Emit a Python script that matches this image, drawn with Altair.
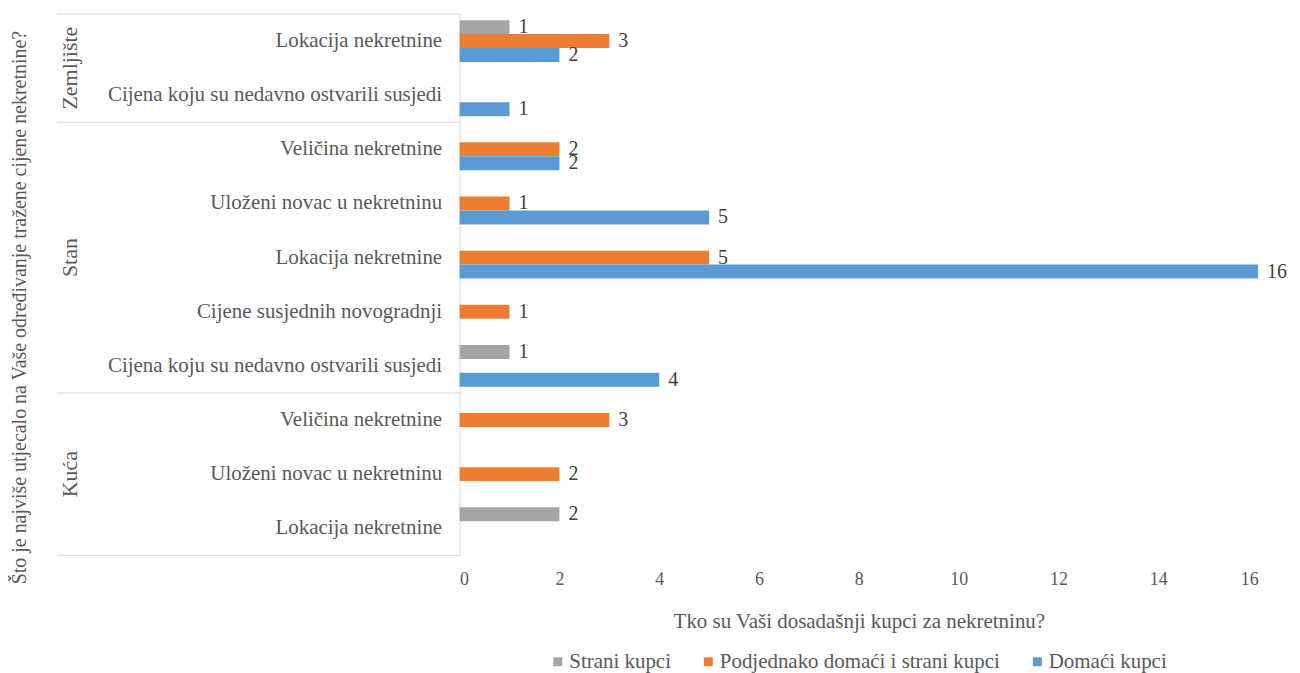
import altair as alt
import pandas as pd

# ---- data ----
groups = ["Zemljište", "Zemljište", "Stan", "Stan", "Stan", "Stan", "Stan", "Kuća", "Kuća", "Kuća"]
factors = [
    "Lokacija nekretnine",
    "Cijena koju su nedavno ostvarili susjedi",
    "Veličina nekretnine",
    "Uloženi novac u nekretninu",
    "Lokacija nekretnine",
    "Cijene susjednih novogradnji",
    "Cijena koju su nedavno ostvarili susjedi",
    "Veličina nekretnine",
    "Uloženi novac u nekretninu",
    "Lokacija nekretnine",
]
series = ["Strani kupci", "Podjednako domaći i strani kupci", "Domaći kupci"]
strani = [1, None, None, None, None, None, 1, None, None, 2]
podjednako = [3, None, 2, 1, 5, 1, None, 3, 2, None]
domaci = [2, 1, 2, 5, 16, None, 4, None, None, None]
colors = ["#A5A5A5", "#ED7D31", "#5B9BD5"]
group_order = ["Zemljište", "Stan", "Kuća"]
x_ticks = [0, 2, 4, 6, 8, 10, 12, 14, 16]

y_title = "Što je najviše utjecalo na Vaše određivanje tražene cijene nekretnine?"
x_title = "Tko su Vaši dosadašnji kupci za nekretninu?"

FONT = "Liberation Serif"
TXT = "#595959"
LINE = "#D9D9D9"

keys = [f"{g}|{f}" for g, f in zip(groups, factors)]
rows = []
for k, vals in zip(keys, [list(t) for t in zip(strani, podjednako, domaci)]):
    for s, v in zip(series, vals):
        if v is not None:
            rows.append({"key": k, "series": s, "value": v})
df = pd.DataFrame(rows)

gdf_rows = []
bounds = [0]
for g in group_order:
    idx = [i for i, gg in enumerate(groups) if gg == g]
    start, end = min(idx), max(idx) + 1
    gdf_rows.append({"group": g, "mid": (start + end) / 2})
    bounds.append(end)
gdf = pd.DataFrame(gdf_rows)
bdf = pd.DataFrame({"b": bounds})

W, H = 801, 543

y_enc = alt.Y(
    "key:N",
    sort=keys,
    scale=alt.Scale(paddingInner=0, paddingOuter=0),
    axis=alt.Axis(
        labelExpr="split(datum.label, '|')[1]",
        title=y_title,
        ticks=False,
        labelPadding=18,
        labelLimit=500,
        domainColor=LINE,
        labelFontSize=21,
        labelColor=TXT,
        titleFontSize=20,
        titleFontWeight="normal",
        titleColor=TXT,
        titleAngle=270,
        titleX=-441,
        titleY=294,
        titleAlign="center",
        titleBaseline="middle",
        titleLimit=900,
    ),
)
yoff = alt.YOffset(
    "series:N",
    sort=series,
    scale=alt.Scale(domain=series, paddingInner=0, paddingOuter=0.44),
)

x_enc = alt.X(
    "value:Q",
    scale=alt.Scale(domain=[0, 16], nice=False),
    axis=alt.Axis(
        values=x_ticks,
        grid=False,
        ticks=False,
        domain=False,
        labelPadding=15,
        labelFontSize=18,
        labelColor=TXT,
        title=x_title,
        titleFontSize=21,
        titleFontWeight="normal",
        titleColor=TXT,
        titlePadding=22,
    ),
)

bars = alt.Chart(df).mark_bar().encode(
    x=x_enc,
    y=y_enc,
    yOffset=yoff,
    color=alt.Color(
        "series:N",
        sort=series,
        scale=alt.Scale(domain=series, range=colors),
        legend=alt.Legend(
            title=None,
            orient="none",
            direction="horizontal",
            legendX=88,
            legendY=639,
            symbolType="square",
            symbolSize=81,
            symbolStrokeWidth=0,
            labelFontSize=21,
            labelColor=TXT,
            labelLimit=500,
            columnPadding=26,
            symbolOffset=0,
            labelOffset=1,
        ),
    ),
)

labels = alt.Chart(df).mark_text(
    align="left", baseline="middle", dx=9, fontSize=20, color="#404040"
).encode(
    x="value:Q",
    y=alt.Y("key:N", sort=keys),
    yOffset=alt.YOffset("series:N", sort=series),
    text="value:Q",
)

base = alt.layer(bars, labels)

qy = alt.Scale(domain=[0, 10], reverse=True, nice=False, zero=False)

rules = alt.Chart(bdf).mark_rule(color=LINE, strokeWidth=1).encode(
    y=alt.Y("b:Q", scale=qy, axis=None),
    x=alt.value(-404),
    x2=alt.value(0),
)
gtext = alt.Chart(gdf).mark_text(
    angle=270, align="center", baseline="middle", fontSize=22, color=TXT
).encode(
    y=alt.Y("mid:Q", scale=qy, axis=None),
    x=alt.value(-391),
    text="group:N",
)
annot = alt.layer(rules, gtext)

chart = (
    alt.layer(base, annot)
    .resolve_scale(y="independent")
    .properties(width=W, height=H, background="white",
                padding={"left": 2, "top": 4, "right": 5, "bottom": 0})
    .configure(font=FONT)
    .configure_view(stroke="transparent", strokeWidth=0)
)

chart.save("out.html", embed_options={"renderer": "svg", "actions": False})
